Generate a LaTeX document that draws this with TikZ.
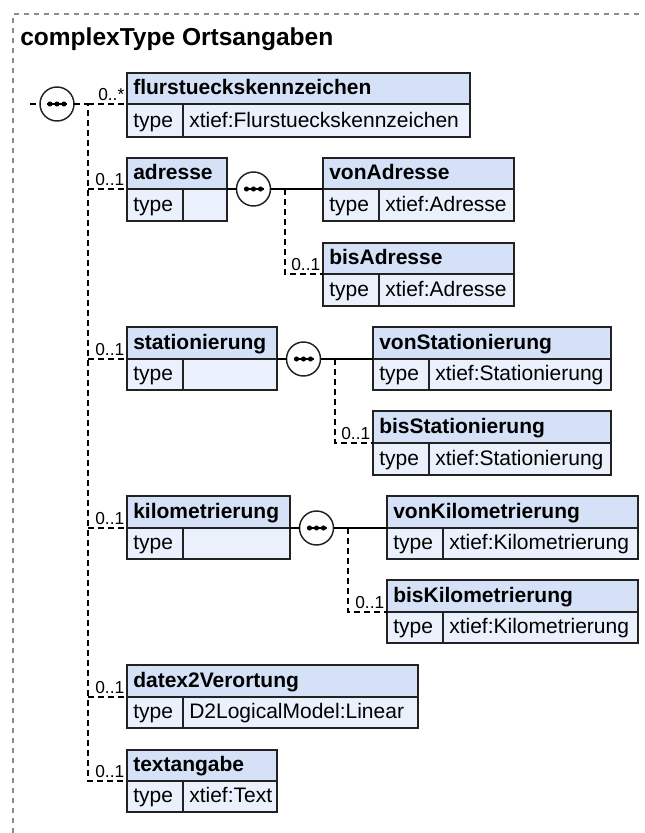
\documentclass[tikz,border=0pt]{standalone}
\usepackage{fontspec}
\setmainfont{Liberation Sans}
\usetikzlibrary{calc}
\definecolor{hcol}{RGB}{212,225,247}
\definecolor{bcol}{RGB}{234,241,252}
\definecolor{bord}{RGB}{34,34,34}
\definecolor{outl}{RGB}{140,140,140}
\tikzset{
  hdr/.style={draw=bord, fill=hcol, line width=1.5pt, anchor=north west, inner sep=0pt, outer sep=0pt},
  cell/.style={draw=bord, fill=bcol, line width=1.5pt, anchor=north west, inner sep=0pt, outer sep=0pt},
  ttl/.style={anchor=base west, inner sep=0pt, font=\fontsize{15.75}{16}\selectfont\bfseries},
  txt/.style={anchor=base west, inner sep=0pt, font=\fontsize{15.75}{16}\selectfont},
  mult/.style={anchor=base east, inner sep=0pt, xshift=-1.5pt, yshift=3pt, font=\fontsize{13}{13}\selectfont},
  dsh/.style={draw=black, line width=1.1pt, dash pattern=on 4.5pt off 3pt},
  sld/.style={draw=black, line width=1.1pt},
  seqn/.style={circle, draw=bord, fill=white, line width=1.1pt, minimum size=25.5pt, inner sep=0pt, outer sep=0pt},
  outer/.style={draw=outl, line width=0.8pt, dash pattern=on 3.75pt off 3.75pt}
}
\newcommand{\xel}[9]{%
  \node[hdr, minimum width={(#6-#2)*0.75pt}, minimum height={(#4-#3)*0.75pt}] (h#1) at (#2,#3) {};
  \node[cell, minimum width={(#7-#2)*0.75pt}, minimum height={(#5-#4)*0.75pt}] (t#1) at (#2,#4) {};
  \node[cell, minimum width={(#6-#7)*0.75pt}, minimum height={(#5-#4)*0.75pt}] (v#1) at (#7,#4) {};
  \node[ttl] (l#1) at (#2+6,#4-10) {#8};
  \node[txt] (k#1) at (#2+6,#5-10) {type};
  \node[txt] (w#1) at (#7+6,#5-10) {#9};
}
\newcommand{\seqc}[3]{%
  \node[seqn] (#1) at (#2,#3) {};
  \draw[line width=1.1pt] ($(#1.center)+(-10,0)$) -- ($(#1.center)+(10,0)$);
  \foreach \d in {-7,0,7} \fill ($(#1.center)+(\d,0)$) circle[radius=1.9pt];
}
\begin{document}
\begin{tikzpicture}[x=0.75pt, y=-0.75pt]
\useasboundingbox (0,0) rectangle (644,833);
\draw[outer] (13,833) -- (13,14) -- (644,14);
\node[anchor=base west, inner sep=0pt, font=\fontsize{18.4}{19}\selectfont\bfseries] (title) at (20,45) {complexType Ortsangaben};

% main sequence
\seqc{smain}{57}{104}
\coordinate (stub) at (30,104);
\coordinate (trunk) at (88,104);

% elements
\xel{flur}{127}{73}{104}{137}{470}{183}{flurstueckskennzeichen}{xtief:Flurstueckskennzeichen}
\xel{adr}{127}{158}{189}{221}{227}{183}{adresse}{}
\xel{vadr}{323}{158}{189}{221}{514}{379}{vonAdresse}{xtief:Adresse}
\xel{badr}{323}{243}{274}{306}{514}{379}{bisAdresse}{xtief:Adresse}
\xel{sta}{127}{327}{359}{390}{277}{183}{stationierung}{}
\xel{vsta}{373}{327}{359}{390}{611}{429}{vonStationierung}{xtief:Stationierung}
\xel{bsta}{373}{411}{443}{475}{611}{429}{bisStationierung}{xtief:Stationierung}
\xel{kil}{127}{496}{528}{559}{290}{183}{kilometrierung}{}
\xel{vkil}{387}{496}{528}{559}{638}{443}{vonKilometrierung}{xtief:Kilometrierung}
\xel{bkil}{387}{580}{612}{643}{638}{443}{bisKilometrierung}{xtief:Kilometrierung}
\xel{dat}{127}{665}{697}{728}{418}{183}{datex2Verortung}{D2LogicalModel:Linear}
\xel{txt}{127}{750}{781}{812}{277}{183}{textangabe}{xtief:Text}

% main connectors
\draw[dsh] (stub) -- (smain.west);
\draw[dsh] (smain.east) -- (trunk) |- (htxt.south west) node[mult] {0..1};
\draw[dsh] (trunk) -- (hflur.south west) node[mult] {0..*};
\foreach \n in {adr,sta,kil,dat}{
  \draw[dsh] (h\n.south west -| trunk) -- (h\n.south west) node[mult] {0..1};
}

% sub sequences
\seqc{sadr}{253.5}{189}
\seqc{ssta}{303.5}{359}
\seqc{skil}{316.5}{528}
\foreach \p/\s/\v/\b in {adr/sadr/vadr/badr, sta/ssta/vsta/bsta, kil/skil/vkil/bkil}{
  \draw[sld] (h\p.south east) -- (\s.west);
  \draw[sld] (\s.east) -- (h\v.south west);
  \draw[dsh] ($(\s.center)+(31.5,0)$) |- (h\b.south west) node[mult] {0..1};
}
\end{tikzpicture}
\end{document}
